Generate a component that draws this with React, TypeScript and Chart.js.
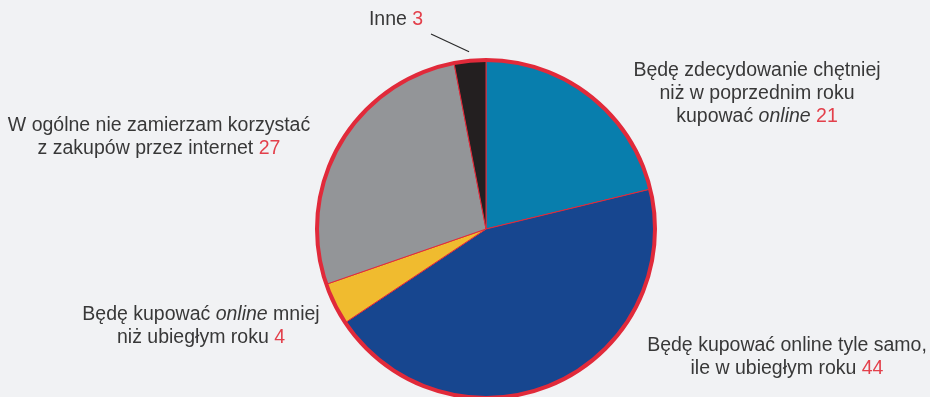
import React, { useEffect, useRef } from 'react';
import { Chart, registerables } from 'chart.js';
Chart.register(...registerables);

const categories = [
  'Będę zdecydowanie chętniej niż w poprzednim roku kupować online',
  'Będę kupować online tyle samo, ile w ubiegłym roku',
  'Będę kupować online mniej niż ubiegłym roku',
  'W ogólne nie zamierzam korzystać z zakupów przez internet',
  'Inne',
];
const values = [21, 44, 4, 27, 3];
const sliceColors = ['#087ead', '#17468f', '#f0bb2f', '#939598', '#231f20'];

// label text lines: runs of [text, italic]; value appended to last line
const labelLines: [string, boolean][][][] = [
  [[['Będę zdecydowanie chętniej', false]], [['niż w poprzednim roku', false]], [['kupować ', false], ['online', true], [' ', false]]],
  [[['Będę kupować online tyle samo,', false]], [['ile w ubiegłym roku ', false]]],
  [[['Będę kupować ', false], ['online', true], [' mniej', false]], [['niż ubiegłym roku ', false]]],
  [[['W ogólne nie zamierzam korzystać', false]], [['z zakupów przez internet ', false]]],
  [[['Inne ', false]]],
];
const labelAnchors = [
  { x: 757, y: 71 },
  { x: 787, y: 346 },
  { x: 201, y: 315 },
  { x: 159, y: 126 },
  { x: 396, y: 20 },
];

const RED = '#e12a3a';
const NUM_RED = '#e3404b';
const TEXT = '#383838';
const BG = '#f1f2f4';
const FONT = '"Liberation Sans", Arial, sans-serif';
const FS = 19.5;
const LH = 23;

const decorPlugin = {
  id: 'decor',
  afterDatasetsDraw(chart: any) {
    const ctx = chart.ctx;
    const meta = chart.getDatasetMeta(0);
    const a0 = meta.data[0];
    const { x, y, outerRadius } = a0.getProps(['x', 'y', 'outerRadius'], true);
    ctx.save();
    ctx.beginPath();
    ctx.arc(x, y, outerRadius, 0, Math.PI * 2);
    ctx.lineWidth = 4;
    ctx.strokeStyle = RED;
    ctx.stroke();

    // leader for "Inne"
    const inne = meta.data[4];
    const p = inne.getProps(['startAngle', 'endAngle'], true);
    const mid = (p.startAngle + p.endAngle) / 2;
    const ex = x + Math.cos(mid) * (outerRadius + 9);
    const ey = y + Math.sin(mid) * (outerRadius + 9);
    const a = labelAnchors[4];
    ctx.beginPath();
    ctx.moveTo(a.x + 35, a.y + 14);
    ctx.lineTo(ex, ey);
    ctx.lineWidth = 1.2;
    ctx.strokeStyle = '#2a2a2a';
    ctx.stroke();

    // labels
    ctx.textBaseline = 'middle';
    ctx.textAlign = 'left';
    labelLines.forEach((lines, i) => {
      const anchor = labelAnchors[i];
      lines.forEach((runs, li) => {
        const parts: { t: string; font: string; color: string }[] = runs.map(([t, it]) => ({
          t,
          font: `${it ? 'italic ' : ''}${FS}px ${FONT}`,
          color: TEXT,
        }));
        if (li === lines.length - 1) {
          parts.push({ t: String(values[i]), font: `${FS}px ${FONT}`, color: NUM_RED });
        }
        let total = 0;
        parts.forEach((pt) => {
          ctx.font = pt.font;
          total += ctx.measureText(pt.t).width;
        });
        let cx = anchor.x - total / 2;
        const cy = anchor.y + li * LH;
        parts.forEach((pt) => {
          ctx.font = pt.font;
          ctx.fillStyle = pt.color;
          ctx.fillText(pt.t, cx, cy);
          cx += ctx.measureText(pt.t).width;
        });
      });
    });
    ctx.restore();
  },
};

export default function App() {
  const ref = useRef<HTMLCanvasElement | null>(null);
  useEffect(() => {
    document.body.style.margin = '0';
    const chart = new Chart(ref.current as HTMLCanvasElement, {
      type: 'pie',
      data: {
        labels: categories,
        datasets: [
          {
            data: values,
            backgroundColor: sliceColors,
            borderColor: RED,
            borderWidth: 1,
            radius: 169,
            clip: false,
          } as any,
        ],
      },
      options: {
        animation: false,
        responsive: false,
        layout: { padding: { left: 42, right: 0, top: 61, bottom: 0 } },
        plugins: { legend: { display: false }, tooltip: { enabled: false } },
      },
      plugins: [decorPlugin],
    });
    return () => chart.destroy();
  }, []);
  return (
    <div style={{ position: 'fixed', left: 0, top: 0, width: 930, height: 397, background: BG, overflow: 'hidden' }}>
      <canvas ref={ref} width={930} height={397} style={{ display: 'block' }} />
    </div>
  );
}
